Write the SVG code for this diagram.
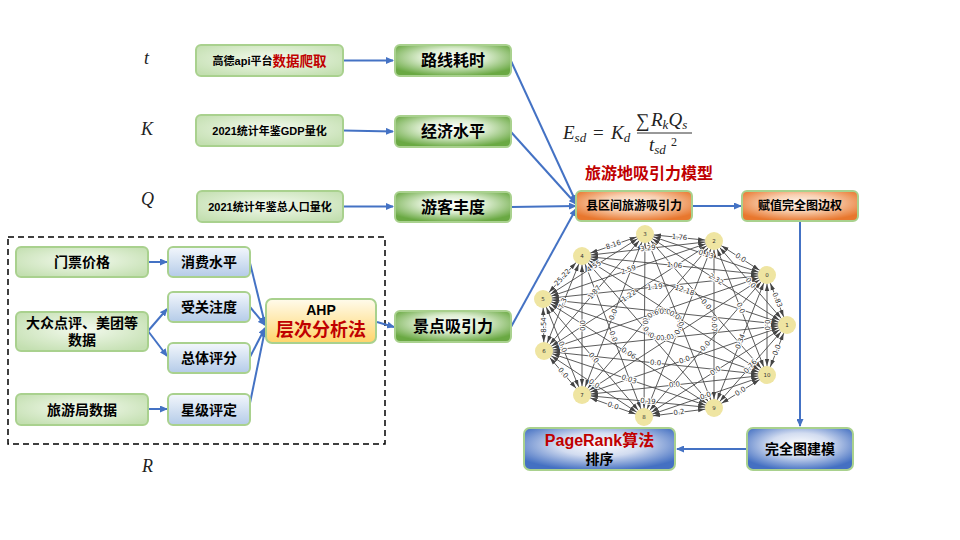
<svg xmlns="http://www.w3.org/2000/svg" width="960" height="540" viewBox="0 0 960 540">
<defs>
<style>
.cj{font-family:'Liberation Sans','Noto Sans CJK SC',sans-serif;font-weight:bold;fill:#000;text-anchor:middle;dominant-baseline:central}
.red{fill:#c00000}
.bx{stroke:#a9d18e;stroke-width:2}
.fl{stroke:#4472c4;stroke-width:2;fill:none;marker-end:url(#ba)}
.mv{font-family:'Liberation Serif','DejaVu Serif',serif;font-style:italic;fill:#222}
.e{stroke:#4a4a4a;stroke-width:0.9;marker-start:url(#ga);marker-end:url(#ga)}
.el{font-family:'DejaVu Sans',sans-serif;font-size:7px;fill:#333;text-anchor:middle;dominant-baseline:central;stroke:#fff;stroke-width:2;paint-order:stroke fill}
.nd{fill:#efe5a2}
.nl{font-family:'DejaVu Sans',sans-serif;font-size:5.5px;fill:#333;text-anchor:middle;dominant-baseline:central}
</style>
<marker id="ba" viewBox="0 0 8 7" refX="7" refY="3.5" markerWidth="8" markerHeight="7" markerUnits="userSpaceOnUse" orient="auto"><path d="M0,0 L8,3.5 L0,7 z" fill="#4472c4"/></marker>
<marker id="ga" viewBox="0 -3 7 6" refX="16" refY="0" markerWidth="7" markerHeight="6" markerUnits="userSpaceOnUse" orient="auto-start-reverse"><path d="M0,-2.2 L7,0 L0,2.2 z" fill="#444"/></marker>
<radialGradient id="gLight" cx="50%" cy="45%" r="65%"><stop offset="0" stop-color="#f4faef"/><stop offset="1" stop-color="#c3dfb0"/></radialGradient>
<radialGradient id="gGreen" cx="50%" cy="40%" r="62%"><stop offset="0" stop-color="#ffffff"/><stop offset="0.45" stop-color="#dcedd0"/><stop offset="1" stop-color="#6aa943"/></radialGradient>
<radialGradient id="gOrange" cx="50%" cy="40%" r="62%"><stop offset="0" stop-color="#fff5ee"/><stop offset="0.45" stop-color="#f8cfb0"/><stop offset="1" stop-color="#e8772e"/></radialGradient>
<radialGradient id="gBlue" cx="50%" cy="40%" r="62%"><stop offset="0" stop-color="#ffffff"/><stop offset="0.45" stop-color="#d2dcf0"/><stop offset="1" stop-color="#4470c2"/></radialGradient>
<linearGradient id="gBL" x1="0" y1="0" x2="0" y2="1"><stop offset="0" stop-color="#f3f7fc"/><stop offset="1" stop-color="#b4cbe8"/></linearGradient>
<linearGradient id="gY" x1="0" y1="0" x2="0" y2="1"><stop offset="0" stop-color="#fffbec"/><stop offset="1" stop-color="#ffd56a"/></linearGradient>
</defs>
<rect width="960" height="540" fill="#fff"/>

<!-- variable letters -->
<text class="mv" x="144" y="64" font-size="18">t</text>
<text class="mv" x="141" y="135" font-size="18">K</text>
<text class="mv" x="141" y="205" font-size="18">Q</text>
<text class="mv" x="142" y="472" font-size="18">R</text>

<!-- formula -->
<g id="formula" class="mv">
<text x="563" y="139" font-size="19">E<tspan font-size="13" dy="3">sd</tspan></text>
<text x="593" y="139" font-size="19" font-style="normal">=</text>
<text x="611" y="139" font-size="19">K<tspan font-size="13" dy="3">d</tspan></text>
<text x="636" y="127" font-size="19" font-style="normal">∑</text>
<text x="651" y="126" font-size="19">R<tspan font-size="13" dy="3">k</tspan><tspan dy="-3">Q</tspan><tspan font-size="13" dy="3">s</tspan></text>
<line x1="637" y1="133" x2="692" y2="133" stroke="#333" stroke-width="1"/>
<text x="649" y="151" font-size="19">t<tspan font-size="13" dy="3">sd</tspan></text>
<text x="671" y="146" font-size="12" font-style="normal">2</text>
</g>
<text class="cj red" x="649" y="173" font-size="16">旅游地吸引力模型</text>

<!-- dashed region -->
<rect x="8" y="237" width="377" height="207" fill="none" stroke="#000" stroke-width="1.5" stroke-dasharray="6,4"/>

<!-- connectors -->
<g id="connectors">
<line class="fl" x1="343" y1="60.5" x2="393" y2="60.5"/>
<line class="fl" x1="343" y1="130.5" x2="393" y2="131.5"/>
<line class="fl" x1="343" y1="206.5" x2="393" y2="206.5"/>
<line class="fl" x1="511" y1="61" x2="576" y2="202"/>
<line class="fl" x1="511" y1="132" x2="576" y2="204"/>
<line class="fl" x1="511" y1="207" x2="576" y2="206"/>
<line class="fl" x1="511" y1="327" x2="576" y2="209"/>
<line class="fl" x1="692" y1="206" x2="741" y2="206"/>
<line class="fl" x1="800" y1="221" x2="800" y2="426"/>
<line class="fl" x1="747" y1="449" x2="677" y2="449"/>
<line class="fl" x1="148" y1="262" x2="167" y2="262"/>
<line class="fl" x1="148" y1="331" x2="167" y2="309"/>
<line class="fl" x1="148" y1="331" x2="167" y2="356"/>
<line class="fl" x1="148" y1="409" x2="167" y2="409"/>
<line class="fl" x1="250" y1="263" x2="265" y2="324"/>
<line class="fl" x1="250" y1="307" x2="265" y2="325"/>
<line class="fl" x1="250" y1="357" x2="265" y2="328"/>
<line class="fl" x1="250" y1="403" x2="265" y2="330"/>
<line class="fl" x1="377" y1="322" x2="394" y2="327"/>
</g>

<!-- top input boxes -->
<g id="n_gaode"><rect class="bx" x="196" y="45" width="147" height="31" rx="5" fill="url(#gLight)"/>
<text class="cj" x="269.5" y="60.5" font-size="11">高德api平台<tspan class="red" font-size="13.5">数据爬取</tspan></text></g>
<g id="n_gdp"><rect class="bx" x="196" y="115" width="147" height="31" rx="5" fill="url(#gLight)"/>
<text class="cj" x="269.5" y="130.5" font-size="11">2021统计年鉴GDP量化</text></g>
<g id="n_pop"><rect class="bx" x="197" y="191" width="146" height="31" rx="5" fill="url(#gLight)"/>
<text class="cj" x="270" y="206.5" font-size="11">2021统计年鉴总人口量化</text></g>

<g id="n_route"><rect class="bx" x="395" y="45" width="116" height="31" rx="5" fill="url(#gGreen)"/>
<text class="cj" x="453" y="60.5" font-size="16">路线耗时</text></g>
<g id="n_econ"><rect class="bx" x="395" y="116" width="116" height="31" rx="5" fill="url(#gGreen)"/>
<text class="cj" x="453" y="131.5" font-size="16">经济水平</text></g>
<g id="n_tour"><rect class="bx" x="395" y="192" width="116" height="30" rx="5" fill="url(#gGreen)"/>
<text class="cj" x="453" y="207" font-size="16">游客丰度</text></g>
<g id="n_spot"><rect class="bx" x="395" y="311" width="116" height="31" rx="5" fill="url(#gGreen)"/>
<text class="cj" x="453" y="326.5" font-size="16">景点吸引力</text></g>

<g id="n_attr"><rect class="bx" x="576" y="191" width="116" height="30" rx="5" fill="url(#gOrange)"/>
<text class="cj" x="634" y="206" font-size="12">县区间旅游吸引力</text></g>
<g id="n_weight"><rect class="bx" x="742" y="191" width="116" height="30" rx="5" fill="url(#gOrange)"/>
<text class="cj" x="800" y="206" font-size="12">赋值完全图边权</text></g>

<g id="n_model"><rect class="bx" x="747" y="428" width="106" height="42" rx="6" fill="url(#gBlue)"/>
<text class="cj" x="800" y="449" font-size="14">完全图建模</text></g>
<g id="n_pr"><rect class="bx" x="524" y="428" width="151" height="42" rx="6" fill="url(#gBlue)"/>
<text class="cj red" x="599.5" y="440" font-size="16">PageRank算法</text>
<text class="cj" x="599.5" y="459" font-size="14">排序</text></g>

<!-- AHP region -->
<g id="n_ticket"><rect class="bx" x="16" y="247" width="132" height="30" rx="5" fill="url(#gLight)"/>
<text class="cj" x="82" y="262" font-size="14">门票价格</text></g>
<g id="n_dp"><rect class="bx" x="16" y="312" width="132" height="39" rx="5" fill="url(#gLight)"/>
<text class="cj" x="82" y="323" font-size="14">大众点评、美团等</text>
<text class="cj" x="82" y="340" font-size="14">数据</text></g>
<g id="n_bureau"><rect class="bx" x="16" y="394" width="132" height="31" rx="5" fill="url(#gLight)"/>
<text class="cj" x="82" y="409.5" font-size="14">旅游局数据</text></g>
<g id="n_cost"><rect class="bx" x="168" y="247" width="82" height="30" rx="5" fill="url(#gBL)"/>
<text class="cj" x="209" y="262" font-size="14">消费水平</text></g>
<g id="n_focus"><rect class="bx" x="168" y="292" width="82" height="30" rx="5" fill="url(#gBL)"/>
<text class="cj" x="209" y="307" font-size="14">受关注度</text></g>
<g id="n_score"><rect class="bx" x="168" y="343" width="82" height="30" rx="5" fill="url(#gBL)"/>
<text class="cj" x="209" y="358" font-size="14">总体评分</text></g>
<g id="n_star"><rect class="bx" x="168" y="394" width="82" height="31" rx="5" fill="url(#gBL)"/>
<text class="cj" x="209" y="409.5" font-size="14">星级评定</text></g>
<g id="n_ahp"><rect class="bx" x="266" y="299" width="110" height="44" rx="6" fill="url(#gY)"/>
<text class="cj" x="321" y="310" font-size="14">AHP</text>
<text class="cj red" x="321" y="330" font-size="18">层次分析法</text></g>

<!-- complete graph -->
<g id="graph-edges">
<line class="e" x1="767" y1="275" x2="787" y2="325"/>
<line class="e" x1="767" y1="275" x2="714" y2="241"/>
<line class="e" x1="767" y1="275" x2="645" y2="234"/>
<line class="e" x1="767" y1="275" x2="582" y2="256"/>
<line class="e" x1="767" y1="275" x2="543" y2="299"/>
<line class="e" x1="767" y1="275" x2="544" y2="351"/>
<line class="e" x1="767" y1="275" x2="582" y2="395"/>
<line class="e" x1="767" y1="275" x2="644" y2="417"/>
<line class="e" x1="767" y1="275" x2="714" y2="408"/>
<line class="e" x1="767" y1="275" x2="767" y2="375"/>
<line class="e" x1="787" y1="325" x2="714" y2="241"/>
<line class="e" x1="787" y1="325" x2="645" y2="234"/>
<line class="e" x1="787" y1="325" x2="582" y2="256"/>
<line class="e" x1="787" y1="325" x2="543" y2="299"/>
<line class="e" x1="787" y1="325" x2="544" y2="351"/>
<line class="e" x1="787" y1="325" x2="582" y2="395"/>
<line class="e" x1="787" y1="325" x2="644" y2="417"/>
<line class="e" x1="787" y1="325" x2="714" y2="408"/>
<line class="e" x1="787" y1="325" x2="767" y2="375"/>
<line class="e" x1="714" y1="241" x2="645" y2="234"/>
<line class="e" x1="714" y1="241" x2="582" y2="256"/>
<line class="e" x1="714" y1="241" x2="543" y2="299"/>
<line class="e" x1="714" y1="241" x2="544" y2="351"/>
<line class="e" x1="714" y1="241" x2="582" y2="395"/>
<line class="e" x1="714" y1="241" x2="644" y2="417"/>
<line class="e" x1="714" y1="241" x2="714" y2="408"/>
<line class="e" x1="714" y1="241" x2="767" y2="375"/>
<line class="e" x1="645" y1="234" x2="582" y2="256"/>
<line class="e" x1="645" y1="234" x2="543" y2="299"/>
<line class="e" x1="645" y1="234" x2="544" y2="351"/>
<line class="e" x1="645" y1="234" x2="582" y2="395"/>
<line class="e" x1="645" y1="234" x2="644" y2="417"/>
<line class="e" x1="645" y1="234" x2="714" y2="408"/>
<line class="e" x1="645" y1="234" x2="767" y2="375"/>
<line class="e" x1="582" y1="256" x2="543" y2="299"/>
<line class="e" x1="582" y1="256" x2="544" y2="351"/>
<line class="e" x1="582" y1="256" x2="582" y2="395"/>
<line class="e" x1="582" y1="256" x2="644" y2="417"/>
<line class="e" x1="582" y1="256" x2="714" y2="408"/>
<line class="e" x1="582" y1="256" x2="767" y2="375"/>
<line class="e" x1="543" y1="299" x2="544" y2="351"/>
<line class="e" x1="543" y1="299" x2="582" y2="395"/>
<line class="e" x1="543" y1="299" x2="644" y2="417"/>
<line class="e" x1="543" y1="299" x2="714" y2="408"/>
<line class="e" x1="543" y1="299" x2="767" y2="375"/>
<line class="e" x1="544" y1="351" x2="582" y2="395"/>
<line class="e" x1="544" y1="351" x2="644" y2="417"/>
<line class="e" x1="544" y1="351" x2="714" y2="408"/>
<line class="e" x1="544" y1="351" x2="767" y2="375"/>
<line class="e" x1="582" y1="395" x2="644" y2="417"/>
<line class="e" x1="582" y1="395" x2="714" y2="408"/>
<line class="e" x1="582" y1="395" x2="767" y2="375"/>
<line class="e" x1="644" y1="417" x2="714" y2="408"/>
<line class="e" x1="644" y1="417" x2="767" y2="375"/>
<line class="e" x1="714" y1="408" x2="767" y2="375"/>
</g>
<g id="graph-edge-labels">
<text class="el" transform="translate(777,300) rotate(68.2)">0.83</text>
<text class="el" transform="translate(740.5,258) rotate(32.7)">0.0</text>
<text class="el" transform="translate(706,254.5) rotate(18.6)">0.13</text>
<text class="el" transform="translate(674.5,265.5) rotate(5.9)">1.06</text>
<text class="el" transform="translate(655,287) rotate(-6.1)">1.19</text>
<text class="el" transform="translate(655.5,313) rotate(-18.8)">0.69</text>
<text class="el" transform="translate(674.5,335) rotate(-33)">0.0</text>
<text class="el" transform="translate(705.5,346) rotate(-49.1)">0.0</text>
<text class="el" transform="translate(740.5,341.5) rotate(-68.3)">0.34</text>
<text class="el" transform="translate(767,325) rotate(90)">0.0</text>
<text class="el" transform="translate(750.5,283) rotate(49)">0.0</text>
<text class="el" transform="translate(716,279.5) rotate(32.7)">2.32</text>
<text class="el" transform="translate(684.5,290.5) rotate(18.6)">12.18</text>
<text class="el" transform="translate(665,312) rotate(6.1)">0.0</text>
<text class="el" transform="translate(665.5,338) rotate(-6.1)">0.0</text>
<text class="el" transform="translate(684.5,360) rotate(-18.9)">0.0</text>
<text class="el" transform="translate(715.5,371) rotate(-32.8)">0.0</text>
<text class="el" transform="translate(750.5,366.5) rotate(-48.7)">0.76</text>
<text class="el" transform="translate(777,350) rotate(-68.2)">0.0</text>
<text class="el" transform="translate(679.5,237.5) rotate(5.8)">1.76</text>
<text class="el" transform="translate(648,248.5) rotate(-6.5)">3.29</text>
<text class="el" transform="translate(628.5,270) rotate(-18.7)">2.59</text>
<text class="el" transform="translate(629,296) rotate(-32.9)">1.22</text>
<text class="el" transform="translate(648,318) rotate(-49.4)">0.0</text>
<text class="el" transform="translate(679,329) rotate(-68.3)">0.0</text>
<text class="el" transform="translate(714,324.5) rotate(90)">0.07</text>
<text class="el" transform="translate(740.5,308) rotate(68.4)">0.0</text>
<text class="el" transform="translate(613.5,245) rotate(-19.2)">8.16</text>
<text class="el" transform="translate(594,266.5) rotate(-32.5)">4.55</text>
<text class="el" transform="translate(594.5,292.5) rotate(-49.2)">1.87</text>
<text class="el" transform="translate(613.5,314.5) rotate(-68.6)">0.0</text>
<text class="el" transform="translate(644.5,325.5) rotate(90)">0.0</text>
<text class="el" transform="translate(679.5,321) rotate(68.4)">0.0</text>
<text class="el" transform="translate(706,304.5) rotate(49.1)">0.0</text>
<text class="el" transform="translate(562.5,277.5) rotate(-47.8)">25.22</text>
<text class="el" transform="translate(563,303.5) rotate(-68.2)">7.3</text>
<text class="el" transform="translate(582,325.5) rotate(90)">0.0</text>
<text class="el" transform="translate(613,336.5) rotate(69)">0.0</text>
<text class="el" transform="translate(648,332) rotate(49)">0.0</text>
<text class="el" transform="translate(674.5,315.5) rotate(32.8)">0.0</text>
<text class="el" transform="translate(543.5,325) rotate(-90)">8.54</text>
<text class="el" transform="translate(562.5,347) rotate(67.9)">0.0</text>
<text class="el" transform="translate(593.5,358) rotate(49.4)">0.0</text>
<text class="el" transform="translate(628.5,353.5) rotate(32.5)">0.06</text>
<text class="el" transform="translate(655,337) rotate(18.7)">0.0</text>
<text class="el" transform="translate(563,373) rotate(49.2)">0.0</text>
<text class="el" transform="translate(594,384) rotate(33.4)">0.0</text>
<text class="el" transform="translate(629,379.5) rotate(18.5)">0.03</text>
<text class="el" transform="translate(655.5,363) rotate(6.1)">0.0</text>
<text class="el" transform="translate(613,406) rotate(19.5)">0.0</text>
<text class="el" transform="translate(648,401.5) rotate(5.6)">0.19</text>
<text class="el" transform="translate(674.5,385) rotate(-6.2)">0.0</text>
<text class="el" transform="translate(679,412.5) rotate(-7.3)">0.2</text>
<text class="el" transform="translate(705.5,396) rotate(-18.9)">0.0</text>
<text class="el" transform="translate(740.5,391.5) rotate(-31.9)">0.0</text>
</g>
<g id="gn0"><circle class="nd" cx="767" cy="275" r="9"/><text class="nl" x="767" y="275">0</text></g>
<g id="gn1"><circle class="nd" cx="787" cy="325" r="9"/><text class="nl" x="787" y="325">1</text></g>
<g id="gn2"><circle class="nd" cx="714" cy="241" r="9"/><text class="nl" x="714" y="241">2</text></g>
<g id="gn3"><circle class="nd" cx="645" cy="234" r="9"/><text class="nl" x="645" y="234">3</text></g>
<g id="gn4"><circle class="nd" cx="582" cy="256" r="9"/><text class="nl" x="582" y="256">4</text></g>
<g id="gn5"><circle class="nd" cx="543" cy="299" r="9"/><text class="nl" x="543" y="299">5</text></g>
<g id="gn6"><circle class="nd" cx="544" cy="351" r="9"/><text class="nl" x="544" y="351">6</text></g>
<g id="gn7"><circle class="nd" cx="582" cy="395" r="9"/><text class="nl" x="582" y="395">7</text></g>
<g id="gn8"><circle class="nd" cx="644" cy="417" r="9"/><text class="nl" x="644" y="417">8</text></g>
<g id="gn9"><circle class="nd" cx="714" cy="408" r="9"/><text class="nl" x="714" y="408">9</text></g>
<g id="gn10"><circle class="nd" cx="767" cy="375" r="9"/><text class="nl" x="767" y="375">10</text></g>
</svg>
